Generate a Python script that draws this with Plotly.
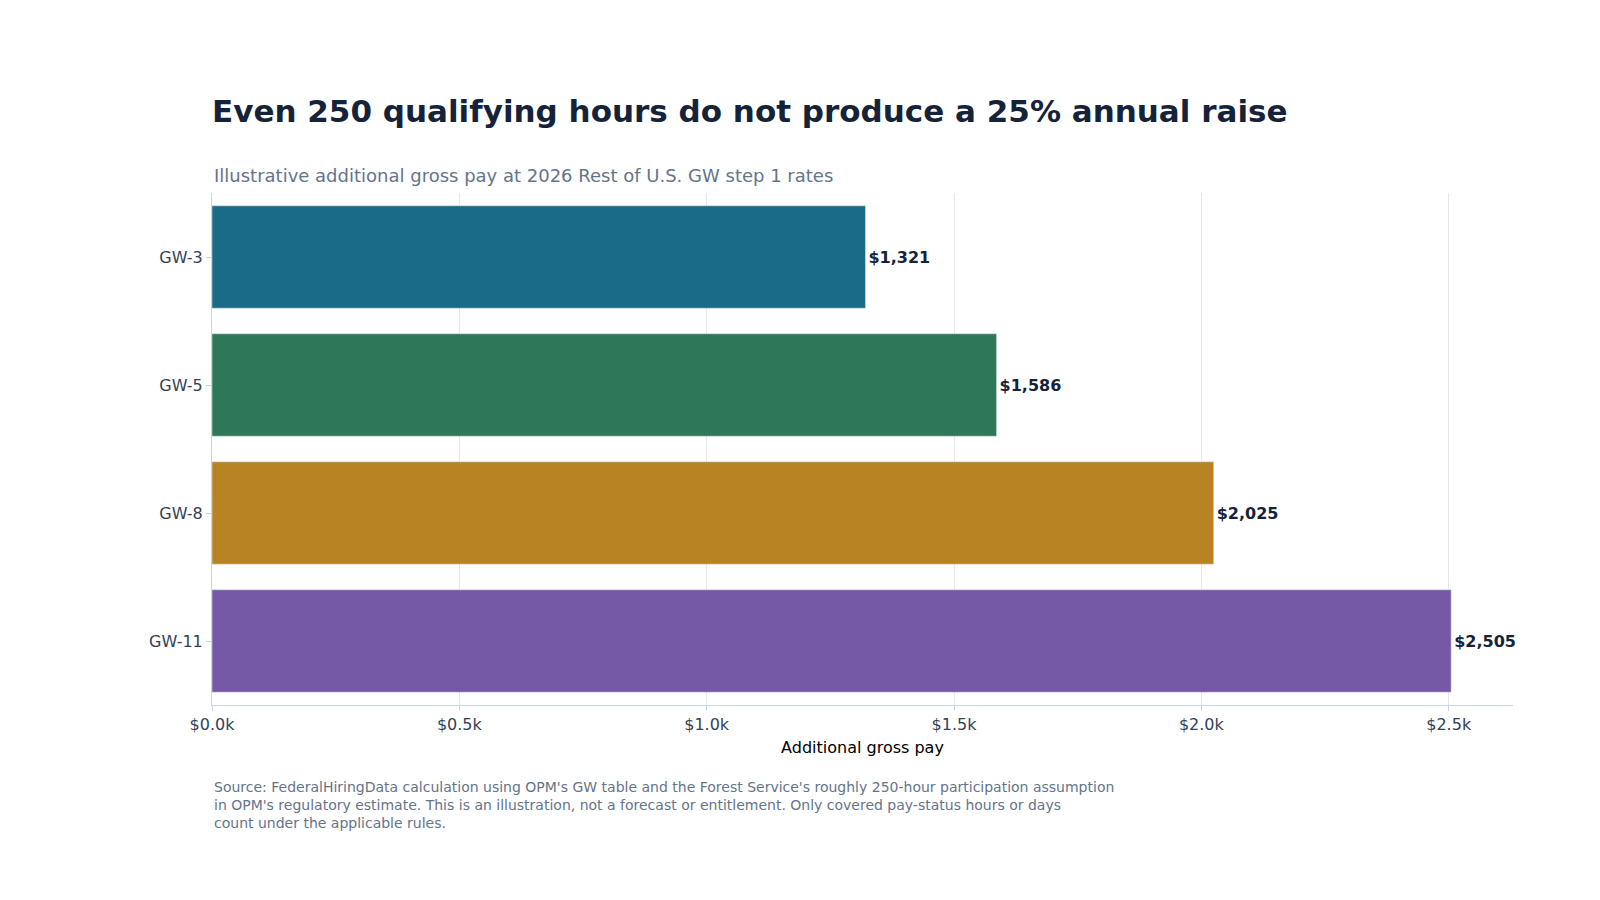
import plotly.graph_objects as go

grades = ["GW-3", "GW-5", "GW-8", "GW-11"]
extra_pay = [1321, 1586, 2025, 2505]
bar_colors = ["#1a6b87", "#2e7759", "#b88322", "#7458a6"]
tick_vals = [0, 500, 1000, 1500, 2000, 2500]
tick_text = ["$0.0k", "$0.5k", "$1.0k", "$1.5k", "$2.0k", "$2.5k"]

fig = go.Figure(go.Bar(
    x=extra_pay, y=grades, orientation="h",
    marker=dict(color=bar_colors),
    text=[f"<b>${v:,}</b>" for v in extra_pay],
    textposition="outside", textfont=dict(size=16, color="#15233a"),
    cliponaxis=False, hoverinfo="skip",
))

fig.update_layout(
    width=1600, height=900,
    font=dict(family="DejaVu Sans", color="#334155"),
    plot_bgcolor="white", paper_bgcolor="white",
    margin=dict(l=204, r=95, t=185, b=203),
    bargap=0.2, showlegend=False,
    title=dict(
        text="<b>Even 250 qualifying hours do not produce a 25% annual raise</b>",
        x=204 / 1600, xanchor="left", y=1 - 103 / 900, yanchor="middle",
        font=dict(size=31, color="#15233a"),
    ),
    annotations=[
        dict(text="Illustrative additional gross pay at 2026 Rest of U.S. GW step 1 rates",
             xref="paper", yref="paper", x=0, y=1 + 18 / 512, xanchor="left",
             yanchor="middle", showarrow=False, font=dict(size=18, color="#64748b")),
        dict(text="Source: FederalHiringData calculation using OPM's GW table and the Forest Service's roughly 250-hour participation assumption<br>"
                  "in OPM's regulatory estimate. This is an illustration, not a forecast or entitlement. Only covered pay-status hours or days<br>"
                  "count under the applicable rules.",
             xref="paper", yref="paper", x=0, y=-72 / 512, xanchor="left", yanchor="top",
             align="left", showarrow=False, font=dict(size=14, color="#64748b")),
    ],
)
fig.update_xaxes(
    range=[0, 2630], tickvals=tick_vals, ticktext=tick_text,
    showgrid=True, gridcolor="#e5e7eb", zeroline=False,
    showline=True, linecolor="#cbd5e1", ticks="outside", tickcolor="#cbd5e1",
    tickfont=dict(size=16),
    title=dict(text="Additional gross pay", font=dict(size=16, color="black"), standoff=8),
)
fig.update_yaxes(
    autorange="reversed", showline=True, linecolor="#cbd5e1",
    ticks="outside", tickcolor="#cbd5e1", tickfont=dict(size=16),
)

fig.write_html("out.html")
